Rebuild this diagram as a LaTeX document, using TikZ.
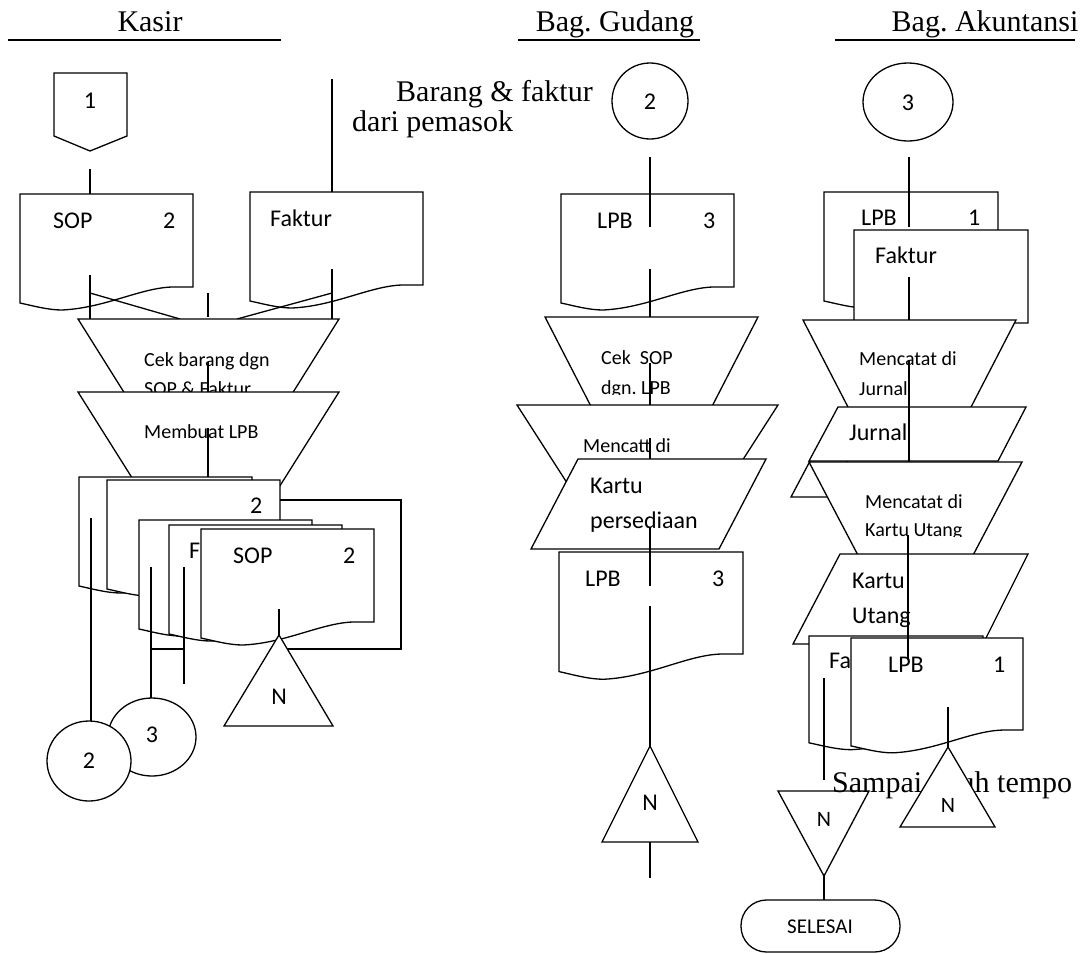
\documentclass[tikz,border=0pt]{standalone}
\usepackage{fontspec}
\setmainfont{Liberation Serif}
\newfontfamily\calib{Carlito}
\frenchspacing
\newcommand\docpath{(0,0) -- (173,0) -- (173,93) -- (152,93) .. controls (120,94) and (85,114) .. (42,116) .. controls (28,116) and (14,112) .. (0,109) -- cycle}
\newcommand\docu[4]{\draw[shp, shift={(#1,#2)}, xscale=#3, yscale=#4] \docpath;}
\begin{document}
\begin{tikzpicture}[x=1pt,y=-1pt,
 ln/.style={line width=1.3pt},
 shp/.style={line width=1.3pt, fill=white, line join=miter},
 big/.style={font=\calib\fontsize{24}{28}\selectfont, inner sep=0pt, anchor=base west},
 bigc/.style={font=\calib\fontsize{24}{28}\selectfont, inner sep=0pt, anchor=base},
 midc/.style={font=\calib\fontsize{22}{26}\selectfont, inner sep=0pt, anchor=base},
 selc/.style={font=\calib\fontsize{21}{25}\selectfont, inner sep=0pt, anchor=base},
 sml/.style={font=\calib\fontsize{20}{24}\selectfont, inner sep=0pt, anchor=base west},
 tms/.style={font=\fontsize{30}{34}\selectfont, inner sep=0pt, anchor=base west},
 tmsc/.style={font=\fontsize{30}{34}\selectfont, inner sep=0pt, anchor=base},
]
\useasboundingbox[fill=white] (0,0) rectangle (1091,953);

% ---------------- headers
\node[tmsc] (hk) at (150,31) {Kasir};
\draw[ln] (8,40) -- (281,40);
\node[tmsc] (hg) at (615,31) {Bag. Gudang};
\draw[ln] (518,40) -- (700,40);
\node[tmsc] (ha) at (985,31) {Bag. Akuntansi};
\draw[ln] (835,40) -- (1075,40);

% ================= KASIR
\draw[shp] (54,73) -- (127,73) -- (127,136) -- (90,151) -- (54,136) -- cycle;
\node[bigc] (k1) at (90,108) {1};
\draw[ln] (90,169) -- (90,194);
\node[tms] (brg) at (396,101) {Barang \& faktur};
\node[tms] (dari) at (352,131) {dari pemasok};
\draw[ln] (332,79) -- (332,192);
\docu{20}{194}{1}{1}
\node[big] (ksop) at (53,228) {SOP};
\node[big] (ksop2) at (163,228) {2};
\docu{250}{192}{1}{1}
\node[big] (kfak) at (270,226) {Faktur};
\draw[ln] (90,275) -- (90,319);
\draw[ln] (90,293) -- (180,319);
\draw[ln] (332,269) -- (332,319);
\draw[ln] (332,293) -- (237,319);
\draw[ln] (208,293) -- (208,317);
% trapezoid 1
\draw[shp] (78,319) -- (339,319) -- (270,429) -- (147,429) -- cycle;
\node[sml] (kcek1) at (144,366) {Cek barang dgn};
\node[sml] (kcek2) at (144,395) {SOP \& Faktur};
\draw[ln] (208,362) -- (208,392);
% trapezoid 2
\draw[shp] (78,392) -- (339,392) -- (271,500) -- (146,500) -- cycle;
\node[sml] (kmb) at (144,438) {Membuat LPB};
\draw[ln] (208,428) -- (208,477);
% document stack
\docu{79}{477}{1}{1}
\docu{107}{480}{1}{1}
\node[big] (kb2) at (250,513) {2};
\draw[ln] (280,500) -- (401,500) -- (401,649) -- (279,649);
\docu{139}{520}{1}{1}
\docu{169}{525}{1}{1}
\node[big] (kdf) at (189,558) {F};
\docu{201}{529}{1}{1}
\node[big] (kesop) at (233,563) {SOP};
\node[big] (ke2) at (343,563) {2};
\draw[ln] (91,518) -- (91,722);
\draw[ln] (151,567) -- (151,698);
\draw[ln] (184,567) -- (184,684);
\draw[ln] (151,649) -- (184,649);
\draw[ln] (279,609) -- (279,635);
\draw[shp] (279,635) -- (333,726) -- (224,726) -- cycle;
\node[bigc] (kn) at (279,704) {N};
\draw[shp] (152,737) ellipse [x radius=44pt, y radius=39pt];
\node[bigc] (kc3) at (152,742) {3};
\draw[shp] (89,761) ellipse [x radius=42pt, y radius=40pt];
\node[bigc] (kc2) at (89,768) {2};

% ================= GUDANG
\draw[shp] (650,101) ellipse [x radius=38pt, y radius=38pt];
\node[bigc] (gc2) at (650,109) {2};
\docu{561}{194}{1}{1}
\node[big] (glpb) at (597,228) {LPB};
\node[big] (g3) at (703,228) {3};
\draw[ln] (650,157) -- (650,227);
\draw[ln] (650,269) -- (650,317);
\draw[shp] (545,317) -- (758,317) -- (705,420) -- (598,420) -- cycle;
\begin{scope}
\clip (540,330) rectangle (760,394);
\node[sml] (gcek1) at (601,364) {Cek\ \ SOP};
\node[sml] (gcek2) at (601,394) {dgn. LPB};
\end{scope}
\draw[ln] (650,363) -- (650,405);
\draw[shp] (517,405) -- (778,405) -- (717,500) -- (578,500) -- cycle;
\node[sml] (gmc) at (583,452) {Mencatt di};
\draw[ln] (650,438) -- (650,459);
\draw[shp] (578,459) -- (766,459) -- (719,549) -- (531,549) -- cycle;
\node[big] (gk1) at (590,493) {Kartu};
\node[big] (gk2) at (590,528) {persediaan};
\docu{559}{552}{1.064}{1.097}
\node[big] (glpb2) at (585,586) {LPB};
\node[big] (g32) at (712,586) {3};
\draw[ln] (650,527) -- (650,586);
\draw[ln] (650,606) -- (650,746);
\draw[shp] (650,746) -- (698,842) -- (602,842) -- cycle;
\node[bigc] (gn) at (650,810) {N};
\draw[ln] (650,842) -- (650,878);

% ================= AKUNTANSI
\draw[shp] (908,102) ellipse [x radius=45pt, y radius=39pt];
\node[bigc] (ac3) at (908,110) {3};
\docu{824}{192}{1.006}{1}
\node[big] (albp) at (861,225) {LPB};
\node[big] (a1) at (968,225) {1};
\draw[ln] (909,157) -- (909,227);
\docu{854}{230}{1.006}{1}
\node[big] (afak) at (875,263) {Faktur};
\draw[ln] (909,277) -- (909,320);
% hidden file triangle
\draw[shp] (828,427) -- (866,497) -- (791,497) -- cycle;
\draw[shp] (803,320) -- (1016,320) -- (954,440) -- (865,440) -- cycle;
\node[sml] (amj1) at (859,365) {Mencatat di};
\node[sml] (amj2) at (859,395) {Jurnal};
\draw[ln] (909,360) -- (909,407);
\draw[shp] (838,407) -- (1026,407) -- (998,461) -- (809,461) -- cycle;
\node[big] (ajur) at (849,440) {Jurnal};
\draw[ln] (909,407) -- (909,493);
\draw[shp] (809,462) -- (1022,462) -- (960,580) -- (871,580) -- cycle;
\begin{scope}
\clip (800,470) rectangle (1030,536);
\node[sml] (amk1) at (865,508) {Mencatat di};
\node[sml] (amk2) at (865,536) {Kartu Utang};
\end{scope}
\draw[shp] (840,554) -- (1028,554) -- (983,644) -- (793,644) -- cycle;
\node[big] (aku1) at (852,588) {Kartu};
\node[big] (aku2) at (852,623) {Utang};
\docu{809}{636}{1.006}{0.98}
\node[big] (afa) at (829,668) {Fa};
\docu{851}{638}{0.994}{0.99}
\node[big] (alpb2) at (888,672) {LPB};
\node[big] (a12) at (993,672) {1};
\draw[ln] (908,535) -- (908,660);
\draw[ln] (824,678) -- (824,780);
\draw[ln] (948,707) -- (948,747);
\draw[shp] (778,791) -- (869,791) -- (824,876) -- cycle;
\node[midc] (an1) at (824,826) {N};
\node[tms] (samp) at (832,792) {Sampai jatuh tempo};
\draw[shp] (948,747) -- (995,827) -- (900,827) -- cycle;
\node[midc] (an2) at (948,812) {N};
\draw[ln] (824,876) -- (824,900);
\draw[shp, rounded corners=25.5pt] (741,900) rectangle (900,952);
\node[selc] (sel) at (820,933) {SELESAI};
\end{tikzpicture}
\end{document}
